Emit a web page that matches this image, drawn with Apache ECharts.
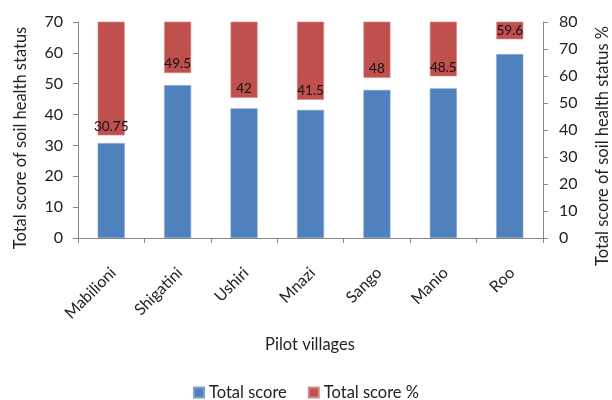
<!DOCTYPE html>
<html><head><meta charset="utf-8">
<script src="https://cdn.jsdelivr.net/npm/echarts@6/dist/echarts.min.js"></script>
<style>html,body{margin:0;padding:0;background:#fff}#c{width:612px;height:400px}</style>
</head><body><div id="c"></div>
<script>
var categories = ['Mabilioni','Shigatini','Ushiri','Mnazi','Sango','Manio','Roo'];
var totalScore = [30.75, 49.5, 42, 41.5, 48, 48.5, 59.6];
var totalScorePct = [38.0, 61.1, 51.9, 51.2, 59.3, 59.9, 73.6];
var pctCrossAt = 100; // secondary axis: horizontal axis crosses at 100, so % bars hang from the top
var leftTicks = {min: 0, max: 70, interval: 10};
var rightTicks = {min: 0, max: 80, interval: 10};
var xTitle = 'Pilot villages';
var leftTitle = 'Total score of soil health status';
var rightTitle = 'Total score of soil health status %';

var font = 'Lato, "Open Sans", sans-serif';
var axisGray = '#868686';
var chart = echarts.init(document.getElementById('c'), null, {renderer: 'canvas'});
chart.setOption({
  animation: false,
  textStyle: {fontFamily: font},
  grid: {left: 78, right: 69, top: 22, bottom: 162},
  legend: {
    data: ['Total score', 'Total score %'],
    top: 379, left: 'center',
    itemWidth: 10, itemHeight: 10, itemGap: 21,
    textStyle: {fontFamily: font, fontSize: 16.5, color: '#222'},
    icon: 'rect'
  },
  graphic: [{
    type: 'text', x: 310, y: 345,
    style: {text: xTitle, font: '16.5px ' + font, fill: '#222', align: 'center', verticalAlign: 'middle'}
  }, {
    type: 'text', x: 21, y: 138, rotation: Math.PI / 2,
    style: {text: leftTitle, font: '16.5px ' + font, fill: '#222', align: 'center', verticalAlign: 'middle'}
  }, {
    type: 'text', x: 603, y: 146, rotation: Math.PI / 2,
    style: {text: rightTitle, font: '16.5px ' + font, fill: '#222', align: 'center', verticalAlign: 'middle'}
  }],
  xAxis: {
    type: 'category', data: categories,
    axisLine: {lineStyle: {color: axisGray}},
    axisTick: {show: true, length: 5, lineStyle: {color: axisGray}},
    axisLabel: {rotate: 45, fontFamily: font, fontSize: 16, color: '#222', margin: 23,
      verticalAlign: 'top', padding: [0, 5, 0, 0]}
  },
  yAxis: [{
    type: 'value', min: leftTicks.min, max: leftTicks.max, interval: leftTicks.interval,
    axisLine: {show: true, lineStyle: {color: axisGray}},
    axisTick: {show: true, length: 5, lineStyle: {color: axisGray}},
    splitLine: {show: false},
    axisLabel: {fontFamily: font, fontSize: 16, color: '#222', margin: 15}
  }, {
    type: 'value', position: 'right', min: rightTicks.min, max: rightTicks.max, interval: rightTicks.interval,
    axisLine: {show: true, lineStyle: {color: axisGray}},
    axisTick: {show: true, length: 5, lineStyle: {color: axisGray}},
    splitLine: {show: false},
    axisLabel: {fontFamily: font, fontSize: 16, color: '#222', margin: 16}
  }],
  series: [{
    name: 'Total score', type: 'bar', yAxisIndex: 0, data: totalScore,
    barWidth: 27, barGap: '-100%',
    itemStyle: {color: '#4F81BD', borderColor: '#7BA0CD', borderWidth: 0.6}
  }, {
    name: '_base', type: 'bar', yAxisIndex: 1, stack: 'pct', data: totalScorePct,
    barWidth: 27, itemStyle: {color: 'rgba(0,0,0,0)'}, silent: true
  }, {
    name: 'Total score %', type: 'bar', yAxisIndex: 1, stack: 'pct',
    data: totalScorePct.map(function (p) { return pctCrossAt - p; }),
    barWidth: 27, clip: true,
    itemStyle: {color: '#C0504D', borderColor: '#D38A88', borderWidth: 0.6},
    label: {
      show: true, position: 'insideBottom', distance: 2,
      fontFamily: font, fontSize: 13.5, color: '#111',
      formatter: function (p) { return String(totalScore[p.dataIndex]); }
    }
  }]
});
</script></body></html>
